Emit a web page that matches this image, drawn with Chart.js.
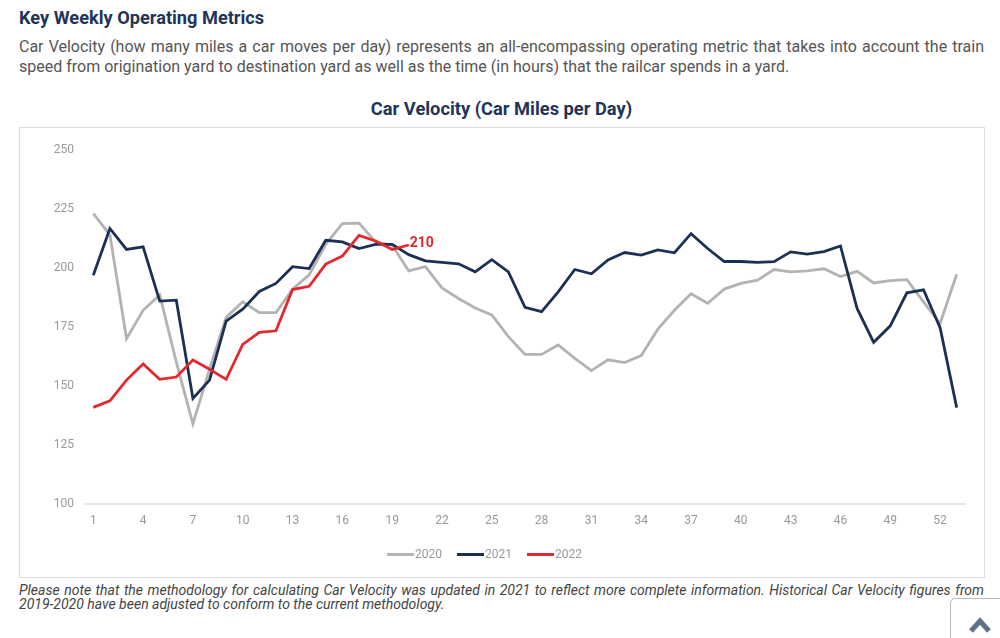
<!DOCTYPE html>
<html>
<head>
<meta charset="utf-8">
<script src="https://cdn.jsdelivr.net/npm/chart.js@4"></script>
<style>
  html, body { margin: 0; padding: 0; background: #fff; overflow: hidden; }
  body { width: 1000px; height: 638px; position: relative; font-family: Roboto, sans-serif; }
  .abs { position: absolute; }
  h1 { position: absolute; left: 19px; top: 7px; margin: 0; font-size: 18.2px; line-height: 22px; font-weight: 700; color: #1f3557; }
  #intro { left: 19px; top: 37px; width: 965px; font-size: 16px; line-height: 20px; color: #555; text-align: justify; }
  h2 { position: absolute; left: 19px; top: 97px; width: 965px; margin: 0; font-size: 18.3px; line-height: 24px; font-weight: 700; color: #1f3557; text-align: center; }
  #box { left: 19px; top: 127px; width: 964px; height: 449px; border: 1px solid #ddd; }
  #box canvas { display: block; }
  #note { left: 19px; top: 584px; width: 965px; font-size: 14px; line-height: 13.5px; font-style: italic; color: #444; text-align: justify; }
  #up { left: 950px; top: 598px; width: 60px; height: 60px; border: 1px solid #bbb; border-radius: 5px 0 0 0; background: #fff; }
</style>
</head>
<body>
<h1>Key Weekly Operating Metrics</h1>
<div id="intro" class="abs">Car Velocity (how many miles a car moves per day) represents an all-encompassing operating metric that takes into account the train speed from origination yard to destination yard as well as the time (in hours) that the railcar spends in a yard.</div>
<h2>Car Velocity (Car Miles per Day)</h2>
<div id="box" class="abs"><canvas id="velocityChart" width="964" height="449"></canvas></div>
<div id="note" class="abs">Please note that the methodology for calculating Car Velocity was updated in 2021 to reflect more complete information. Historical Car Velocity figures from 2019-2020 have been adjusted to conform to the current methodology.</div>
<div id="up" class="abs">
  <svg width="30" height="20" style="position:absolute;left:18px;top:17px"><path d="M2 15 L11 5 L20 15" fill="none" stroke="#5f7186" stroke-width="5"/></svg>
</div>
<script>
// Week numbers on the x axis
const weeks = ['1','2','3','4','5','6','7','8','9','10','11','12','13','14','15','16','17','18','19','20','21','22','23','24','25','26','27','28','29','30','31','32','33','34','35','36','37','38','39','40','41','42','43','44','45','46','47','48','49','50','51','52','53'];
const weekTicks = ['1','4','7','10','13','16','19','22','25','28','31','34','37','40','43','46','49','52'];

// Values
const values2020 = [223,214,170,182,188.5,160,133.8,157,179,185.6,181,181,191,197,210,218.8,219,211,209.6,198.7,200.5,191.5,187,183,180,170.8,163.3,163.3,167.3,161.6,156.4,161,159.8,162.8,174,182,189,185,191,193.4,194.8,199.3,198.3,198.7,199.6,196.3,198.5,193.6,194.6,195,185.6,176.4,197.3];
const values2021 = [196.9,216.7,207.8,208.9,185.9,186.3,144.6,152.4,177.4,182.5,190,193.4,200.5,199.7,211.7,211,208.2,210,210,205.6,203,202.3,201.7,198.3,203.5,198.3,183.3,181.4,189.8,199.3,197.5,203.4,206.5,205.4,207.6,206.4,214.5,208.2,202.7,202.7,202.3,202.6,206.8,205.8,206.9,209.3,182.8,168.4,175.4,189.4,190.7,174.6,140.7];
const values2022 = [140.8,143.6,152.4,159.2,152.7,153.7,160.9,157,152.7,167.5,172.6,173.3,190.8,192.2,201.6,205,213.8,211.4,207.8,209.7];

const ctx = document.getElementById('velocityChart').getContext('2d');

// Legend swatch: the line sits on the right so it almost touches the legend text
function legendSwatch(color) {
    const c = document.createElement('canvas');
    c.width = 36;
    c.height = 4;
    const g = c.getContext('2d');
    g.fillStyle = color;
    g.fillRect(9, 0, 27, 3);
    return c;
}

// Draws the "210" tag next to the last 2022 point
const lastLabel = {
    id: 'lastLabel',
    afterDatasetsDraw(chart) {
        const meta = chart.getDatasetMeta(2);
        const pt = meta.data[meta.data.length - 1];
        const c = chart.ctx;
        c.save();
        c.font = '700 14px Roboto';
        c.fillStyle = '#e3282e';
        c.textBaseline = 'middle';
        c.fillText(String(Math.round(values2022[values2022.length - 1])), pt.x + 1, pt.y - 2);
        c.restore();
    }
};

// The legend is not centred on the box in the reference, nudge it left
const legendNudge = {
    id: 'legendNudge',
    afterLayout(chart) {
        chart.legend.left -= 10;
        chart.legend.right -= 10;
    }
};

new Chart(ctx, {
    type: 'line',
    data: {
        labels: weeks,
        datasets: [
            { label: '2020', data: values2020, borderColor: '#b3b3b3', backgroundColor: '#b3b3b3', borderWidth: 2.8, pointStyle: legendSwatch('#b3b3b3'), order: 3 },
            { label: '2021', data: values2021, borderColor: '#1b3153', backgroundColor: '#1b3153', borderWidth: 2.8, pointStyle: legendSwatch('#1b3153'), order: 2 },
            { label: '2022', data: values2022, borderColor: '#e3282e', backgroundColor: '#e3282e', borderWidth: 2.8, pointStyle: legendSwatch('#e3282e'), order: 1 }
        ]
    },
    options: {
        responsive: false,
        animation: false,
        elements: { point: { radius: 0 }, line: { tension: 0 } },
        layout: { padding: { top: 22, right: 19, bottom: 6, left: 0 } },
        plugins: {
            tooltip: { enabled: false },
            legend: {
                position: 'bottom',
                labels: {
                    usePointStyle: true,
                    pointStyleWidth: 26,
                    padding: 11,
                    color: '#999',
                    font: { family: 'Roboto', size: 12 },
                    sort: (a, b) => a.datasetIndex - b.datasetIndex
                }
            }
        },
        scales: {
            x: {
                offset: true,
                grid: { display: false, drawTicks: false },
                border: { color: '#e8e8e8', width: 2 },
                ticks: {
                    autoSkip: false,
                    maxRotation: 0,
                    padding: 10,
                    color: '#999',
                    font: { family: 'Roboto', size: 12 },
                    callback: function (v) {
                        const w = this.getLabelForValue(v);
                        return weekTicks.includes(w) ? w : '';
                    }
                }
            },
            y: {
                min: 100,
                max: 250,
                afterFit: (scale) => { scale.width = 65; },
                grid: { display: false, drawTicks: false },
                border: { display: false },
                ticks: {
                    stepSize: 25,
                    padding: 11,
                    color: '#999',
                    font: { family: 'Roboto', size: 12 }
                }
            }
        }
    },
    plugins: [lastLabel, legendNudge]
});
</script>
</body>
</html>
